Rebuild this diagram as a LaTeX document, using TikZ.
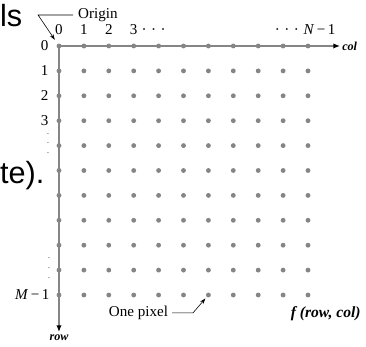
\documentclass[tikz,border=0pt]{standalone}
\usepackage{fontspec}
\setmainfont{Liberation Serif}
\newfontfamily\slidefont{Liberation Sans}
\usetikzlibrary{arrows.meta,positioning}
\definecolor{pixgray}{HTML}{858585}
\newcommand{\tallvdots}{\vbox{\baselineskip=10pt\lineskiplimit=0pt\hbox{.}\hbox{.}\hbox{.}}}
\newcommand{\spreaddots}{·\hspace{4.5pt}·\hspace{4.5pt}·}

\begin{document}
\begin{tikzpicture}[
    x=0.9cm, y=0.9cm,
    pix/.style={circle, fill=pixgray, inner sep=0pt, minimum size=5pt},
    axis/.style={draw=pixgray, line width=1.6pt,
                 -{Latex[length=7pt,width=5.5pt,black]}},
    ptr/.style={black, line width=0.6pt, -{Stealth[length=6pt,width=4pt]}},
    lbl/.style={font=\fontsize{15.5}{17}\selectfont, inner sep=1pt},
    axlbl/.style={font=\fontsize{12.5}{14}\selectfont\bfseries\itshape, inner sep=1pt},
    slide/.style={font=\slidefont\fontsize{31.5}{36}\selectfont,
                  inner sep=0pt, anchor=base west}
]
\clip (-2.369,1.847) rectangle (12.329,-12.048);
% slide text cut off behind the figure
\node[slide] (txtA) at (-2.369,0.763) {ls};
\node[slide] (txtB) at (-2.369,-5.542) {te).};
% Axes
\coordinate (o) at (0,0);
\coordinate (colend) at (11.29,0);
\coordinate (rowend) at (0,-11.49);
\draw[axis] (o) -- (colend);
\draw[axis] (o) -- (rowend);
\node[axlbl, right=1pt of colend] (collbl) {col};
\node[axlbl, below=2pt of rowend] (rowlbl) {row};
% Pixel grid
\foreach \r in {0,...,10}
  \foreach \c in {0,...,10}
    \node[pix] (p-\r-\c) at (\c,-\r) {};
% Column numbers
\foreach \c in {0,1,2,3}
  \node[lbl, anchor=base] (c\c) at (\c,0.48) {\c};
\node[lbl, anchor=base west, inner sep=0pt] (cdots) at ([xshift=3pt]c3.base east) {\spreaddots};
\node[lbl, anchor=base east] (cN) at (11.15,0.48) {\spreaddots\hspace{5pt}\textit{N}\,−\,1};
% Row numbers
\foreach \r in {0,...,3}
  \node[lbl, anchor=east] (r\r) at (-0.38,-\r) {\r};
\node[font=\fontsize{8}{10}\selectfont, inner sep=0pt] (rdotsA) at (-0.44,-3.92) {\tallvdots};
\node[font=\fontsize{8}{10}\selectfont, inner sep=0pt] (rdotsB) at (-0.40,-8.92) {\tallvdots};
\node[lbl, anchor=east] (rM) at (-0.34,-10) {\textit{M}\,−\,1};
% Callouts
\node[lbl, anchor=west, inner xsep=5pt] (origin) at (0.57,1.245) {Origin};
\coordinate (obend) at (-0.84,1.245);
\draw[ptr, shorten >=5pt] (origin.west) -- (obend) -- (p-0-0);
\node[lbl, anchor=east, inner xsep=4pt] (onepix) at (4.54,-10.72) {One pixel};
\coordinate (pbend) at (5.38,-10.72);
\draw[ptr, shorten >=2pt] (onepix.east) -- (pbend) -- (p-10-6);
\node[font=\fontsize{16}{18}\selectfont\bfseries\itshape, anchor=base west,
      inner sep=0pt] (fname) at (9.3,-10.92) {f (row, col)};
\end{tikzpicture}
\end{document}
